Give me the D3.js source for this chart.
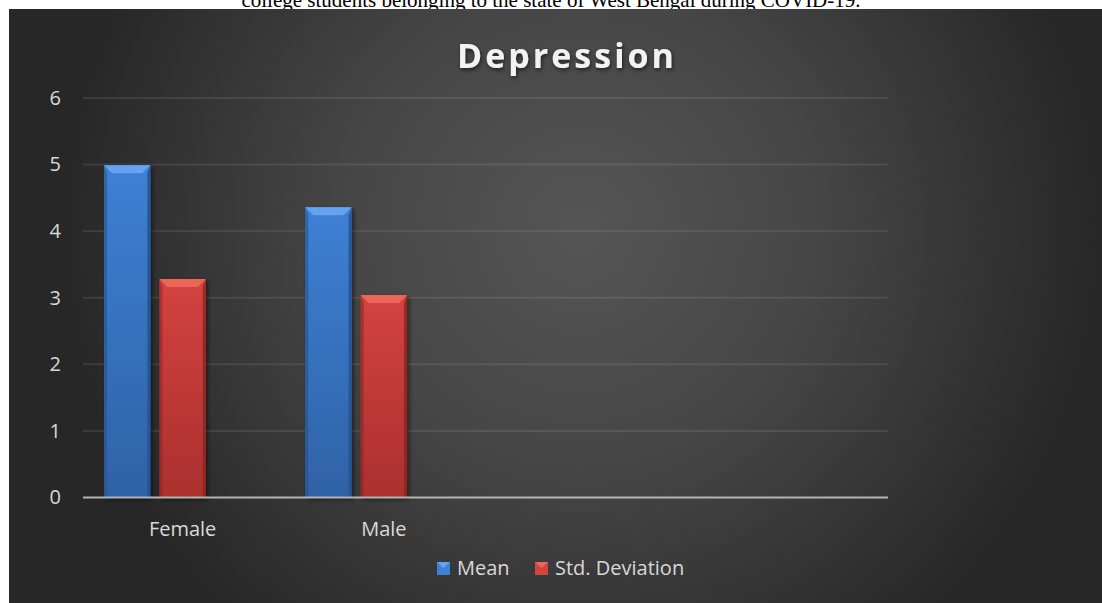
<!DOCTYPE html>
<html>
<head>
<meta charset="utf-8">
<script src="https://cdn.jsdelivr.net/npm/d3@7"></script>
<style>
  html, body { margin: 0; padding: 0; background: #ffffff; }
  svg { display: block; }
</style>
</head>
<body>
<div id="chart"></div>
<script>
// chart values
const categories = ["Female", "Male", "", ""];
const seriesNames = ["Mean", "Std. Deviation", ""];
const meanValues = [4.99, 4.36];
const stdValues = [3.28, 3.04];
const yTicks = [0, 1, 2, 3, 4, 5, 6];
const captionText = "college students belonging to the state of West Bengal during COVID-19.";
const chartTitle = "Depression";

const width = 1102;
const height = 603;
const FONT = "'Open Sans', 'Noto Sans', sans-serif";

const PLOT = {left: 83, right: 888, top: 98, bottom: 497.5};
const BEVEL_TOP = 8;
const BEVEL_SIDE = 3;

const palette = {
  "Mean": {light: "#64a3ef", mid: "#3d80d4", dark: "#2f62a6", edge: "#24508b"},
  "Std. Deviation": {light: "#ec6659", mid: "#d34340", dark: "#ab302e", edge: "#8a2322"}
};

const series = [
  {name: seriesNames[0], values: meanValues},
  {name: seriesNames[1], values: stdValues},
  {name: seriesNames[2], values: []}
];

const svg = d3.select("#chart")
    .append("svg")
    .attr("width", width)
    .attr("height", height);

const defs = svg.append("defs");

// background glow
const bg = defs.append("radialGradient")
    .attr("id", "bg")
    .attr("gradientUnits", "userSpaceOnUse")
    .attr("cx", 580).attr("cy", 230).attr("r", 520);
bg.append("stop").attr("offset", 0).attr("stop-color", "#555555");
bg.append("stop").attr("offset", 0.45).attr("stop-color", "#464646");
bg.append("stop").attr("offset", 1).attr("stop-color", "#272727");

// gradients for each series
Object.entries(palette).forEach(([name, c], i) => {
  const body = defs.append("linearGradient")
      .attr("id", "body" + i)
      .attr("x1", 0).attr("y1", 0).attr("x2", 0).attr("y2", 1);
  body.append("stop").attr("offset", 0).attr("stop-color", c.mid);
  body.append("stop").attr("offset", 1).attr("stop-color", c.dark);
});

const shadow = defs.append("filter")
    .attr("id", "shadow")
    .attr("x", "-20%").attr("y", "-20%").attr("width", "140%").attr("height", "140%");
shadow.append("feDropShadow")
    .attr("dx", 2).attr("dy", 2).attr("stdDeviation", 2)
    .attr("flood-color", "#000").attr("flood-opacity", 0.5);

const titleShadow = defs.append("filter")
    .attr("id", "titleShadow")
    .attr("x", "-10%").attr("y", "-30%").attr("width", "120%").attr("height", "160%");
titleShadow.append("feDropShadow")
    .attr("dx", 1).attr("dy", 2).attr("stdDeviation", 2)
    .attr("flood-color", "#000").attr("flood-opacity", 0.6);

// caption line of the page, cut off by the chart
svg.append("text")
    .attr("x", 551)
    .attr("y", 7)
    .attr("text-anchor", "middle")
    .attr("font-family", "'Liberation Serif', 'Times New Roman', serif")
    .attr("font-size", 21)
    .attr("fill", "#000")
    .text(captionText);

svg.append("rect")
    .attr("x", 9).attr("y", 9)
    .attr("width", width - 9).attr("height", height - 9)
    .attr("fill", "url(#bg)");

// scales
const x0 = d3.scaleBand()
    .domain(d3.range(categories.length))
    .range([PLOT.left, PLOT.right])
    .padding(0);

const x1 = d3.scaleBand()
    .domain(seriesNames)
    .range([21, x0.bandwidth() - 23])
    .paddingInner(0.164)
    .paddingOuter(0);

const y = d3.scaleLinear()
    .domain([0, 6])
    .range([PLOT.bottom, PLOT.top]);

// gridlines
svg.append("g")
    .selectAll("line")
    .data(yTicks.filter(d => d > 0))
    .enter()
    .append("line")
    .attr("x1", PLOT.left).attr("x2", PLOT.right)
    .attr("y1", d => y(d)).attr("y2", d => y(d))
    .attr("stroke", "#ffffff")
    .attr("stroke-opacity", 0.09)
    .attr("stroke-width", 2);

// y axis labels
const yAxis = d3.axisLeft(y)
    .tickValues(yTicks)
    .tickFormat(d3.format("d"))
    .tickSize(0)
    .tickPadding(22);
const yAxisG = svg.append("g")
    .attr("transform", `translate(${PLOT.left},0)`)
    .call(yAxis);
yAxisG.select(".domain").remove();
yAxisG.selectAll("text")
    .attr("font-family", FONT)
    .attr("font-size", 20)
    .attr("fill", "#d9d9d9");

// bars
const barData = [];
series.forEach(s => {
  s.values.forEach((v, i) => barData.push({series: s.name, cat: i, value: v}));
});

const bars = svg.append("g")
    .selectAll("g")
    .data(barData)
    .enter()
    .append("g")
    .attr("filter", "url(#shadow)");

bars.each(function(d) {
  const g = d3.select(this);
  const c = palette[d.series];
  const idx = seriesNames.indexOf(d.series);
  const bx = x0(d.cat) + x1(d.series);
  const bw = x1.bandwidth();
  const top = y(d.value);
  const bottom = y(0);

  g.append("rect")
      .attr("x", bx).attr("y", top)
      .attr("width", bw).attr("height", bottom - top)
      .attr("fill", `url(#body${idx})`);

  // side bevels
  g.append("polygon")
      .attr("points", [[bx, top], [bx + BEVEL_SIDE, top + BEVEL_TOP], [bx + BEVEL_SIDE, bottom], [bx, bottom]].join(" "))
      .attr("fill", c.edge).attr("opacity", 0.55);
  g.append("polygon")
      .attr("points", [[bx + bw, top], [bx + bw - BEVEL_SIDE, top + BEVEL_TOP], [bx + bw - BEVEL_SIDE, bottom], [bx + bw, bottom]].join(" "))
      .attr("fill", c.edge).attr("opacity", 0.8);

  // top bevel
  g.append("polygon")
      .attr("points", [[bx, top], [bx + bw, top], [bx + bw - BEVEL_TOP, top + BEVEL_TOP], [bx + BEVEL_TOP, top + BEVEL_TOP]].join(" "))
      .attr("fill", c.light);
});

// baseline
svg.append("line")
    .attr("x1", PLOT.left).attr("x2", PLOT.right)
    .attr("y1", y(0)).attr("y2", y(0))
    .attr("stroke", "#b4b4b4")
    .attr("stroke-width", 2);

// category labels
svg.append("g")
    .selectAll("text")
    .data(categories)
    .enter()
    .append("text")
    .attr("x", (d, i) => x0(i) + x0.bandwidth() / 2 - 1)
    .attr("y", 536)
    .attr("text-anchor", "middle")
    .attr("font-family", FONT)
    .attr("font-size", 20)
    .attr("fill", "#d9d9d9")
    .text(d => d);

// title
svg.append("text")
    .attr("x", 567)
    .attr("y", 68)
    .attr("text-anchor", "middle")
    .attr("font-family", FONT)
    .attr("font-size", 34)
    .attr("font-weight", "bold")
    .attr("letter-spacing", 3)
    .attr("fill", "#f2f2f2")
    .attr("filter", "url(#titleShadow)")
    .text(chartTitle);

// legend
const legendItems = [
  {name: seriesNames[0], x: 437},
  {name: seriesNames[1], x: 535}
];

const legend = svg.append("g")
    .selectAll("g")
    .data(legendItems)
    .enter()
    .append("g")
    .attr("transform", d => `translate(${d.x},562)`);

legend.append("rect")
    .attr("width", 13).attr("height", 13)
    .attr("fill", d => palette[d.name].mid);
legend.append("polygon")
    .attr("points", "0,0 13,0 6.5,6")
    .attr("fill", d => palette[d.name].light);

legend.append("text")
    .attr("x", 20)
    .attr("y", 13)
    .attr("font-family", FONT)
    .attr("font-size", 20)
    .attr("fill", "#d9d9d9")
    .text(d => d.name);
</script>
</body>
</html>
